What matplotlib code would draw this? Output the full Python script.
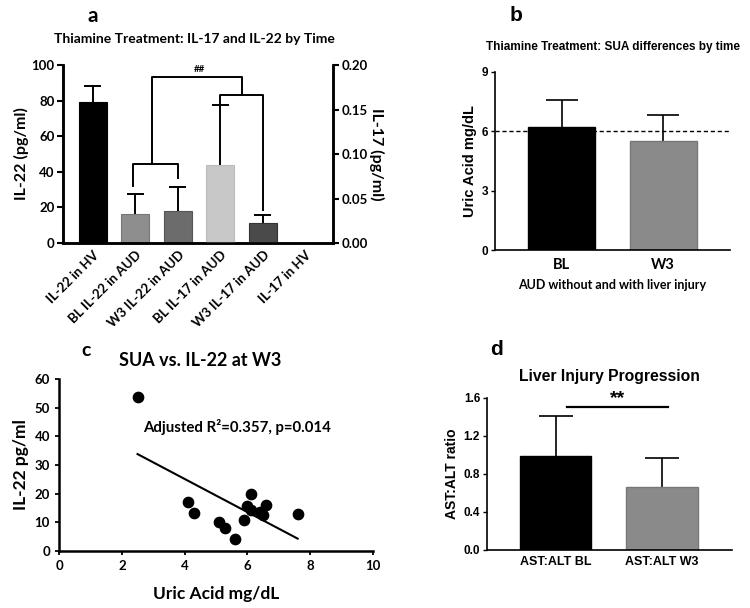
import matplotlib
matplotlib.use("Agg")
import matplotlib.pyplot as plt

# panel a data
a_labels = ["IL-22 in HV", "BL IL-22 in AUD", "W3 IL-22 in AUD",
            "BL IL-17 in AUD", "W3 IL-17 in AUD", "IL-17 in HV"]
a_il22 = [79, 16.5, 18]          # pg/ml, left axis
a_il22_err = [9, 11, 13.5]
a_il17 = [0.088, 0.023, 0.0]     # pg/ml, right axis
a_il17_err = [0.067, 0.008, 0.0]
a_colors = ["#000000", "#8e8e8e", "#6c6c6c", "#c8c8c8", "#4a4a4a", "#ffffff"]

# panel b data
b_labels = ["BL", "W3"]
b_vals = [6.22, 5.52]
b_err = [1.36, 1.31]
b_ref = 6

# panel c data
c_x = [2.5, 4.1, 4.3, 5.1, 5.3, 5.6, 5.9, 6.0, 6.1, 6.1, 6.4, 6.5, 6.6, 7.6]
c_y = [53.7, 17.1, 13.4, 10.1, 8.1, 4.3, 10.9, 15.6, 19.7, 14.4, 13.6, 12.4, 15.9, 13.0]
fit_x = [2.5, 7.6]
fit_y = [33.8, 4.3]

# panel d data
d_labels = ["AST:ALT BL", "AST:ALT W3"]
d_vals = [0.99, 0.66]
d_err = [0.42, 0.31]

calibri = "Lato"
arial = "Liberation Sans"


def up_errors(ax, xs, vals, errs, cap, lw):
    # one-sided (upper) error bars with a cap only on top
    for x, v, e in zip(xs, vals, errs):
        if e <= 0:
            continue
        ax.vlines(x, v, v + e, color="black", lw=lw, zorder=1)
        ax.hlines(v + e, x - cap, x + cap, color="black", lw=lw, zorder=1)


fig = plt.figure(figsize=(7.5, 6.08), dpi=100)

# ---------- a ----------
ax = fig.add_axes([0.084, 0.6003, 0.36, 0.2928])
ax2 = ax.twinx()
pos = list(range(len(a_labels)))
w = 0.66
up_errors(ax, pos[:3], a_il22, a_il22_err, 0.2, 1.4)
up_errors(ax2, pos[3:], a_il17, a_il17_err, 0.2, 1.4)
ax.bar(pos[:3], a_il22, w, color=a_colors[:3], edgecolor=["#000000", "#777777", "#555555"],
       linewidth=0.8, zorder=2)
ax2.bar(pos[3:], a_il17, w, color=a_colors[3:], edgecolor=["#bbbbbb", "#333333", "white"],
        linewidth=0.8, zorder=2)
ax.set_xlim(-0.7, 5.65)
ax.set_ylim(0, 100)
ax2.set_ylim(0, 0.2)
ax.set_yticks([0, 20, 40, 60, 80, 100])
ax2.set_yticks([0, 0.05, 0.10, 0.15, 0.20])
ax2.set_yticklabels(["0.00", "0.05", "0.10", "0.15", "0.20"])
ax.set_xticks(pos)
ax.set_xticklabels(a_labels, rotation=45, ha="right", rotation_mode="anchor")
for t in ax.get_xticklabels() + ax.get_yticklabels() + ax2.get_yticklabels():
    t.set_fontfamily(calibri)
    t.set_fontweight("bold")
    t.set_fontsize(9.5)
ax.tick_params(axis="x", length=0, pad=4)
ax.tick_params(axis="y", width=1.5, length=4, pad=2)
ax2.tick_params(axis="y", width=1.5, length=4, pad=2)
for a in (ax, ax2):
    a.spines["top"].set_visible(False)
    for s in ("left", "right", "bottom"):
        a.spines[s].set_linewidth(1.8)
ax.set_ylabel("IL-22 (pg/ml)", family=calibri, weight="bold", fontsize=11.5, labelpad=2)
ax2.set_ylabel("IL-17 (pg/ml)", family=calibri, weight="bold", fontsize=11.5,
               rotation=270, labelpad=12)
fig.text(194 / 750, 1 - 39 / 608, "Thiamine Treatment: IL-17 and IL-22 by Time",
         family=calibri, weight="bold", fontsize=10, ha="center", va="center")
fig.text(0.116, 0.99, "a", family=calibri, weight="bold", fontsize=15, va="top")

# significance brackets (left-axis units)
lw = 1.4
ax.plot([0.95, 0.95, 2.0, 2.0], [32, 44.4, 44.4, 36.5], color="black", lw=lw)
ax.plot([3.0, 3.0, 4.0, 4.0], [78, 83.1, 83.1, 18.5], color="black", lw=lw)
ax.plot([1.4, 1.4, 3.5, 3.5], [44.4, 93.3, 93.3, 83.1], color="black", lw=lw)
ax.text(2.5, 95, "##", ha="center", va="bottom", family=calibri, weight="bold", fontsize=7)

# ---------- b ----------
bx = fig.add_axes([0.66, 0.5888, 0.3133, 0.2928])
up_errors(bx, range(2), b_vals, b_err, 0.16, 1.2)
bx.bar(range(2), b_vals, 0.66, color=["#000000", "#8a8a8a"], edgecolor=["#000000", "#777777"],
       zorder=2)
bx.axhline(b_ref, color="black", ls=(0, (3, 2)), lw=1, zorder=0.5)
bx.set_xlim(-0.66, 1.66)
bx.set_ylim(0, 9)
bx.set_yticks([0, 3, 6, 9])
bx.set_xticks(range(2))
bx.set_xticklabels(b_labels, family=calibri, weight="bold", fontsize=10.5)
for t in bx.get_yticklabels():
    t.set_family(arial)
    t.set_weight("bold")
    t.set_fontsize(8.5)
bx.tick_params(axis="x", length=0, pad=6)
bx.tick_params(axis="y", length=3, width=1, pad=2)
for s in ("top", "right"):
    bx.spines[s].set_visible(False)
bx.spines["left"].set_linewidth(1.2)
bx.spines["bottom"].set_linewidth(1.2)
bx.set_ylabel("Uric Acid mg/dL", family=arial, weight="bold", fontsize=10.5, labelpad=3)
bx.set_xlabel("AUD without and with liver injury", family=calibri, weight="bold",
              fontsize=9, labelpad=5)
fig.text(613 / 750, 1 - 47 / 608, "Thiamine Treatment: SUA differences by time",
         family=arial, weight="bold", fontsize=8.5, ha="center", va="center")
fig.text(0.679, 0.99, "b", family=arial, weight="bold", fontsize=15, va="top")

# ---------- c ----------
cx = fig.add_axes([0.0787, 0.0938, 0.4187, 0.2829])
cx.scatter(c_x, c_y, s=55, color="black", zorder=3)
cx.plot(fit_x, fit_y, color="black", lw=1.5)
cx.set_xlim(0, 10)
cx.set_ylim(0, 60)
cx.set_xticks([0, 2, 4, 6, 8, 10])
cx.set_yticks([0, 10, 20, 30, 40, 50, 60])
for t in cx.get_xticklabels() + cx.get_yticklabels():
    t.set_family(calibri)
    t.set_weight("bold")
    t.set_fontsize(9.5)
cx.tick_params(length=3, width=1.3)
for s in ("top", "right"):
    cx.spines[s].set_visible(False)
cx.spines["left"].set_linewidth(1.8)
cx.spines["bottom"].set_linewidth(1.8)
cx.set_ylabel("IL-22 pg/ml", family=calibri, weight="bold", fontsize=12.5, labelpad=4)
cx.set_xlabel("Uric Acid mg/dL", family=calibri, weight="bold", fontsize=12.5, labelpad=10)
fig.text(200 / 750, 1 - 360 / 608, "SUA vs. IL-22 at W3", family=calibri, weight="bold",
         fontsize=13, ha="center", va="center")
cx.text(2.68, 43.3, "Adjusted R\u00b2=0.357, p=0.014", family=calibri, weight="bold",
        fontsize=10.8, va="center")
fig.text(0.109, 0.437, "c", family=calibri, weight="bold", fontsize=14, va="top")

# ---------- d ----------
dx = fig.add_axes([0.6493, 0.0954, 0.3267, 0.25])
up_errors(dx, range(2), d_vals, d_err, 0.16, 1.2)
dx.bar(range(2), d_vals, 0.67, color=["#000000", "#8a8a8a"], edgecolor=["#000000", "#777777"],
       zorder=2)
dx.set_xlim(-0.65, 1.66)
dx.set_ylim(0, 1.6)
dx.set_yticks([0, 0.4, 0.8, 1.2, 1.6])
dx.set_yticklabels(["0.0", "0.4", "0.8", "1.2", "1.6"])
dx.set_xticks(range(2))
dx.set_xticklabels(d_labels)
for t in dx.get_yticklabels():
    t.set_family(arial)
    t.set_weight("bold")
    t.set_fontsize(8.5)
for t in dx.get_xticklabels():
    t.set_family(arial)
    t.set_weight("bold")
    t.set_fontsize(9)
dx.tick_params(axis="x", length=0, pad=4)
dx.tick_params(axis="y", length=3, width=1, pad=2)
for s in ("top", "right"):
    dx.spines[s].set_visible(False)
dx.spines["left"].set_linewidth(1.2)
dx.spines["bottom"].set_linewidth(1.2)
dx.plot([0.1, 1.06], [1.5, 1.5], color="black", lw=1.6)
dx.text(0.58, 1.5, "**", ha="center", va="bottom", family=arial, weight="bold", fontsize=14)
dx.set_ylabel("AST:ALT ratio", family=arial, weight="bold", fontsize=10, labelpad=3)
dx.set_title("Liver Injury Progression", family=arial, weight="bold", fontsize=11.3, pad=12)
fig.text(0.654, 0.44, "d", family=arial, weight="bold", fontsize=15, va="top")

fig.savefig("out.png", dpi=100)
